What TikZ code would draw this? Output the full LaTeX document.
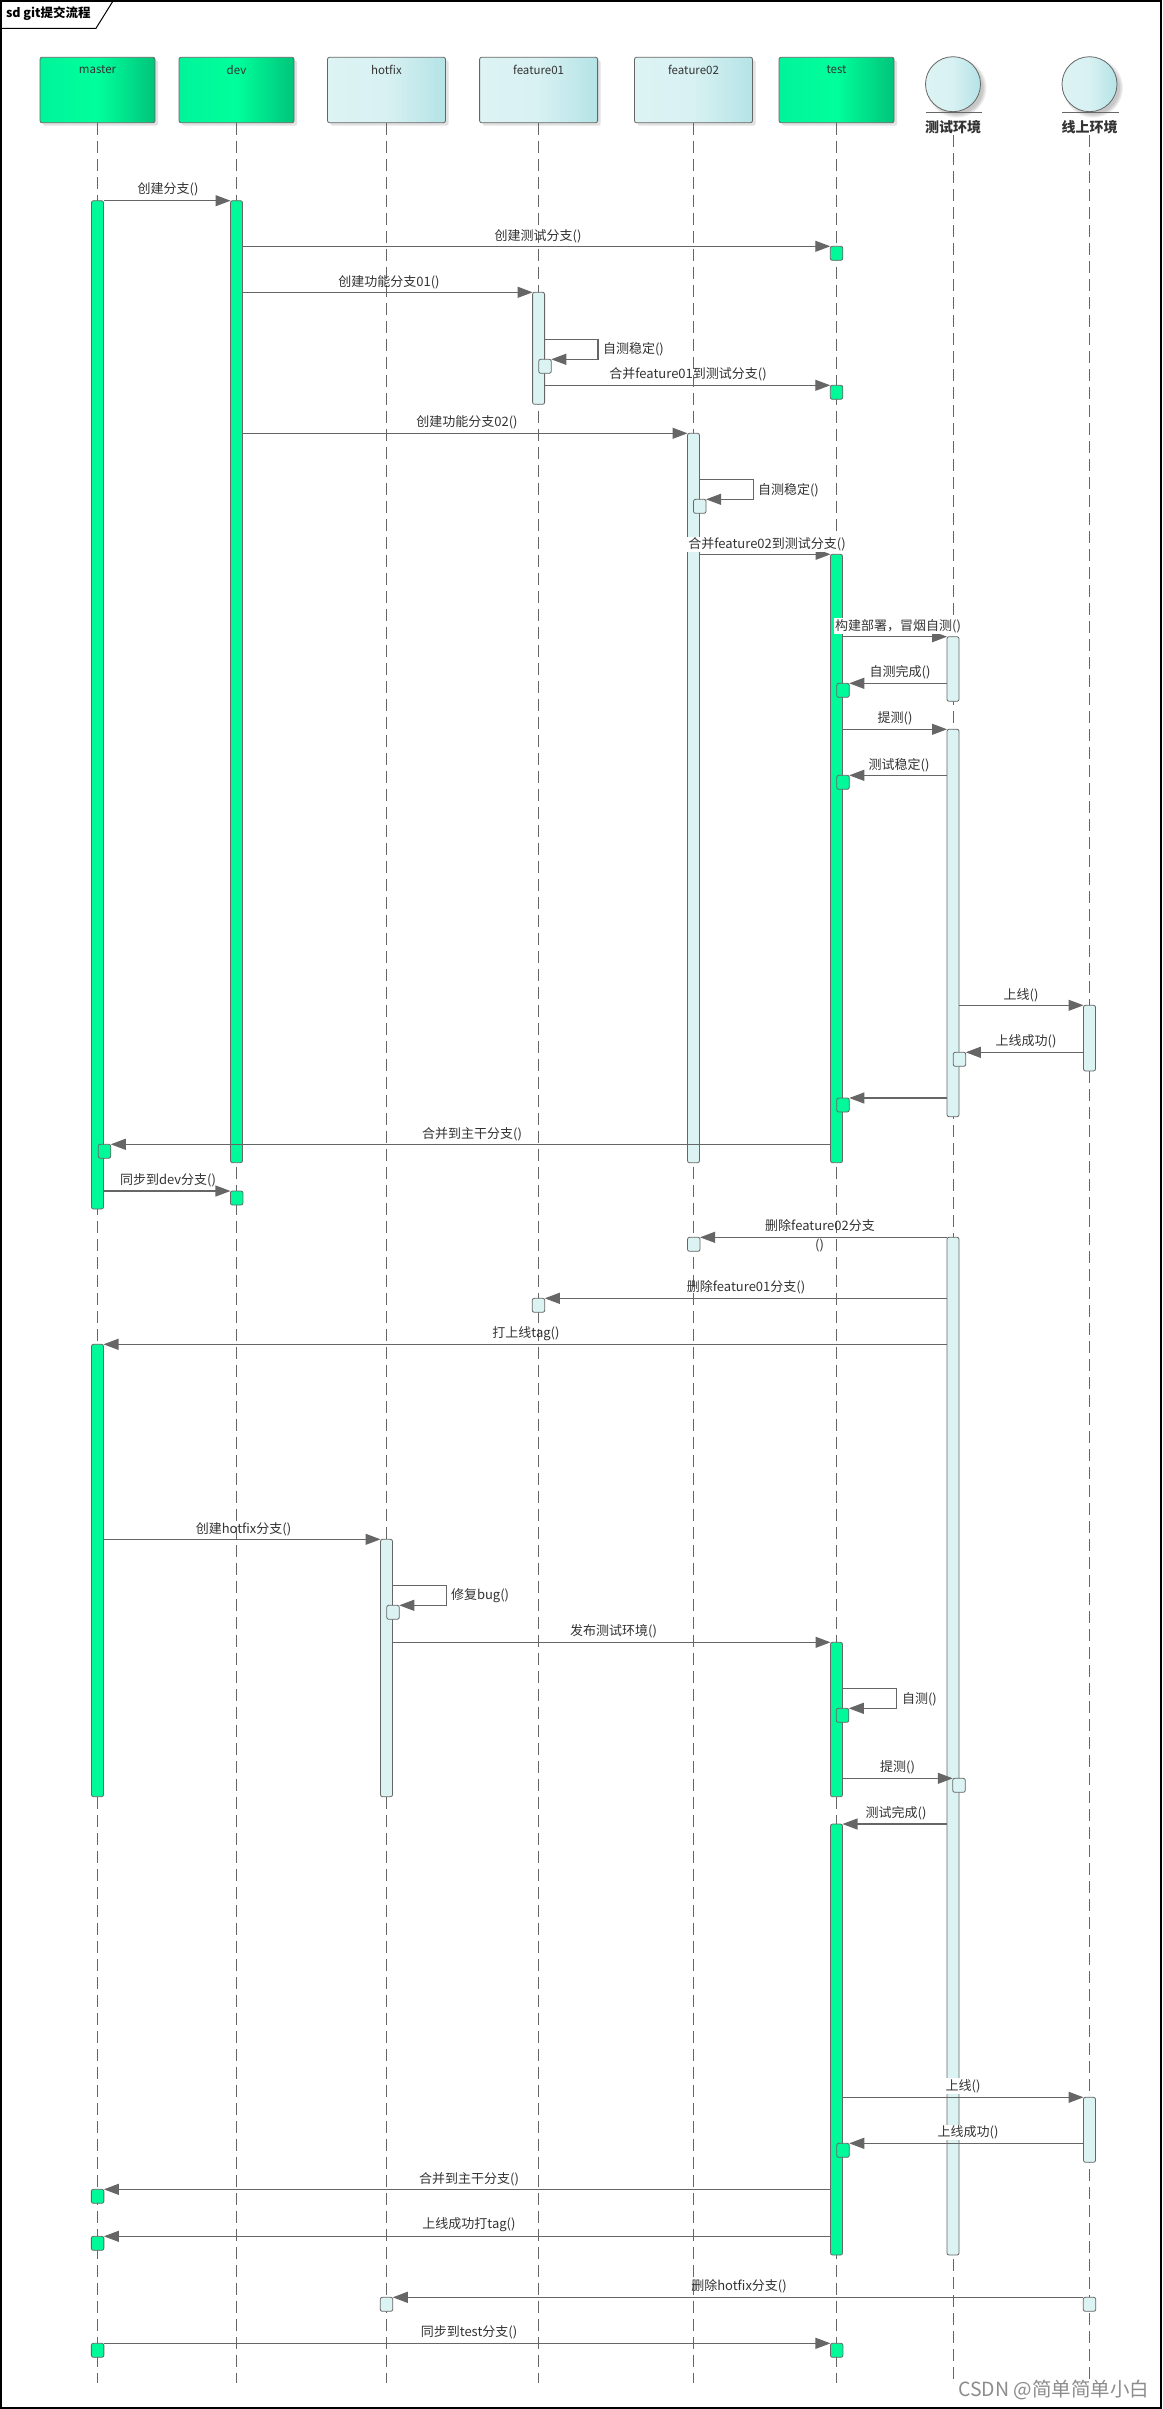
\documentclass[tikz,border=0pt]{standalone}
\usepackage{fontspec}
\setmainfont{Noto Sans CJK SC}
\usetikzlibrary{arrows.meta,shadows}
\definecolor{gL}{HTML}{00F49A}
\definecolor{gM}{HTML}{00FF9C}
\definecolor{gR}{HTML}{00C47A}
\definecolor{cL}{HTML}{DDF3F4}
\definecolor{cM}{HTML}{D8F1F2}
\definecolor{cR}{HTML}{B4E3E6}
\definecolor{gF}{HTML}{00FA9A}
\definecolor{cF}{HTML}{DCF3F3}
\definecolor{ln}{HTML}{666666}
\definecolor{tx}{HTML}{333333}
\begin{document}
\begin{tikzpicture}[x=1pt,y=-1pt,
  every node/.style={inner sep=0pt, outer sep=0pt},
  gbox/.style={draw=ln, line width=0.8pt, rounded corners=2pt, minimum width=115pt, minimum height=65.4pt, anchor=north,
     left color=gL, right color=gR, middle color=gM,
     drop shadow={shadow xshift=3pt, shadow yshift=-3pt, fill=black!22}},
  cbox/.style={gbox, minimum width=118pt, left color=cL, right color=cR, middle color=cM},
  actor/.style={circle, draw=ln, line width=0.8pt, minimum size=55pt, left color=cL, right color=cR, middle color=cM,
     circular drop shadow={shadow xshift=3pt, shadow yshift=-3pt, fill=black!22}},
  headtxt/.style={font=\fontsize{11.5}{13}\selectfont, text=tx},
  acttxt/.style={font=\fontsize{14}{16}\selectfont\bfseries, text=tx},
  life/.style={draw=ln, line width=0.8pt, dash pattern=on 12pt off 6pt},
  gbar/.style={draw=ln, line width=0.8pt, rounded corners=2pt, fill=gF, minimum width=12pt, anchor=north},
  cbar/.style={gbar, fill=cF},
  gsm/.style={draw=ln, line width=0.8pt, rounded corners=2pt, fill=gF, minimum width=12.5pt, minimum height=14pt, anchor=north},
  csm/.style={gsm, fill=cF},
  msg/.style={draw=ln, line width=1.1pt, -{Triangle[length=15pt,width=11pt]}},
  lab/.style={font=\fontsize{13}{15}\selectfont, text=tx},
  wlab/.style={lab, fill=white, inner sep=1pt}
]
\useasboundingbox (0,0) rectangle (1162,2409);
\fill[white] (0,0) rectangle (1162,2409);
% frame and title tab
\draw[black, line width=1.3pt] (1,1) rectangle (1161,2408);
\draw[black, line width=1pt] (1,28.3) -- (96,28.3) -- (113,1);
\node[anchor=west, font=\fontsize{12.5}{14}\selectfont\bfseries] (title) at (6,14) {sd git提交流程};

% lifeline heads
\node[gbox] (hM) at (97.5,57.3) {};
\node[gbox] (hD) at (236.5,57.3) {};
\node[cbox] (hH) at (386.5,57.3) {};
\node[cbox] (hF1) at (538.6,57.3) {};
\node[cbox] (hF2) at (693.5,57.3) {};
\node[gbox] (hT) at (836.5,57.3) {};
\node[headtxt] (tM) at (97.5,70) {master};
\node[headtxt] (tD) at (236.5,70) {dev};
\node[headtxt] (tH) at (386.5,70) {hotfix};
\node[headtxt] (tF1) at (538.6,70) {feature01};
\node[headtxt] (tF2) at (693.5,70) {feature02};
\node[headtxt] (tT) at (836.5,70) {test};
\node[actor] (aE) at (953,84.2) {};
\node[actor] (aO) at (1089.5,84.2) {};
\draw[ln, line width=0.9pt] (925.5,112.3) -- (982,112.3);
\draw[ln, line width=0.9pt] (1062,112.3) -- (1118.5,112.3);
\node[acttxt] (tE) at (953,126.7) {测试环境};
\node[acttxt] (tO) at (1089.5,126.7) {线上环境};

% lifelines
\coordinate (eM) at (97.5,2383.3);
\coordinate (eD) at (236.5,2383.3);
\coordinate (eH) at (386.5,2383.3);
\coordinate (eF1) at (538.6,2383.3);
\coordinate (eF2) at (693.5,2383.3);
\coordinate (eT) at (836.5,2383.3);
\coordinate (eE) at (953,2383.3);
\coordinate (eO) at (1089.5,2383.3);
\draw[life] (hM.south) -- (eM);
\draw[life] (hD.south) -- (eD);
\draw[life] (hH.south) -- (eH);
\draw[life] (hF1.south) -- (eF1);
\draw[life] (hF2.south) -- (eF2);
\draw[life] (hT.south) -- (eT);
\draw[life] (953,135) -- (eE);
\draw[life] (1089.5,135) -- (eO);

% activation bars
\node[gbar, minimum height=1008.3pt] (mbar1) at (97.5,200.7) {};
\node[gbar, minimum height=962pt] (dbar1) at (236.5,200.7) {};
\node[cbar, minimum height=112pt] (f1bar) at (538.6,292.3) {};
\node[cbar, minimum height=729.4pt] (f2bar) at (693.5,433.3) {};
\node[gbar, minimum height=608.4pt] (tbar1) at (836.5,554.3) {};
\node[cbar, minimum height=64.6pt] (ebar1) at (953,636.7) {};
\node[cbar, minimum height=387.4pt] (ebar2) at (953,729.3) {};
\node[cbar, minimum height=65.7pt] (obar1) at (1089.5,1005.3) {};
\node[cbar, minimum height=1017.7pt] (ebar3) at (953,1237.3) {};
\node[gbar, minimum height=452.4pt] (mbar2) at (97.5,1344.3) {};
\node[cbar, minimum height=257.4pt] (hbar) at (386.5,1539.3) {};
\node[gbar, minimum height=154.4pt] (tbar2) at (836.5,1642.3) {};
\node[gbar, minimum height=431pt] (tbar3) at (836.5,1824) {};
\node[cbar, minimum height=65pt] (obar2) at (1089.5,2097.3) {};

% small execution boxes
\node[gsm] (s1) at (836.5,246.3) {};
\node[csm] (s2) at (545,359.3) {};
\node[gsm] (s3) at (836.5,385.3) {};
\node[csm] (s4) at (699.8,499.3) {};
\node[gsm] (s5) at (843,683.3) {};
\node[gsm] (s6) at (843,775.3) {};
\node[csm] (s7) at (959.5,1052.3) {};
\node[gsm] (s8) at (843,1098) {};
\node[gsm] (s9) at (104.5,1144.3) {};
\node[gsm] (s10) at (236.7,1191) {};
\node[csm] (s11) at (693.8,1237.3) {};
\node[csm] (s12) at (538.5,1298.3) {};
\node[csm] (s13) at (393,1605.3) {};
\node[gsm] (s14) at (842.5,1708.3) {};
\node[csm] (s15) at (959,1778.3) {};
\node[gsm] (s16) at (843,2143.3) {};
\node[gsm] (s17) at (97.6,2189.3) {};
\node[gsm] (s18) at (97.6,2236.3) {};
\node[csm] (s19) at (1089.5,2297.3) {};
\node[csm] (s20) at (386.5,2297.3) {};
\node[gsm] (s21) at (97.6,2343.3) {};
\node[gsm] (s22) at (836.7,2343.3) {};

% self-message corners
\coordinate (c4) at (598,339.3);
\coordinate (c7) at (753.5,479.3);
\coordinate (c22) at (446.2,1585.3);
\coordinate (c24) at (896.5,1688.3);

% messages
\draw[msg] (mbar1.east |- dbar1.north) -- (dbar1.north west);
\draw[msg] (dbar1.east |- s1.north) -- (s1.north west);
\draw[msg] (dbar1.east |- f1bar.north) -- (f1bar.north west);
\draw[msg] (f1bar.east |- c4) -- (c4) |- (s2.north east);
\draw[msg] (f1bar.east |- s3.north) -- (s3.north west);
\draw[msg] (dbar1.east |- f2bar.north) -- (f2bar.north west);
\draw[msg] (f2bar.east |- c7) -- (c7) |- (s4.north east);
\draw[msg] (f2bar.east |- tbar1.north) -- (tbar1.north west);
\draw[msg] (tbar1.east |- ebar1.north) -- (ebar1.north west);
\draw[msg] (ebar1.west |- s5.north) -- (s5.north east);
\draw[msg] (tbar1.east |- ebar2.north) -- (ebar2.north west);
\draw[msg] (ebar2.west |- s6.north) -- (s6.north east);
\draw[msg] (ebar2.east |- obar1.north) -- (obar1.north west);
\draw[msg] (obar1.west |- s7.north) -- (s7.north east);
\draw[msg] (ebar2.west |- s8.north) -- (s8.north east);
\draw[msg] (tbar1.west |- s9.north) -- (s9.north east);
\draw[msg] (mbar1.east |- s10.north) -- (s10.north west);
\draw[msg] (ebar3.west |- s11.north) -- (s11.north east);
\draw[msg] (ebar3.west |- s12.north) -- (s12.north east);
\draw[msg] (ebar3.west |- mbar2.north) -- (mbar2.north east);
\draw[msg] (mbar2.east |- hbar.north) -- (hbar.north west);
\draw[msg] (hbar.east |- c22) -- (c22) |- (s13.north east);
\draw[msg] (hbar.east |- tbar2.north) -- (tbar2.north west);
\draw[msg] (tbar2.east |- c24) -- (c24) |- (s14.north east);
\draw[msg] (tbar2.east |- s15.north) -- (s15.north west);
\draw[msg] (ebar3.west |- tbar3.north) -- (tbar3.north east);
\draw[msg] (tbar3.east |- obar2.north) -- (obar2.north west);
\draw[msg] (obar2.west |- s16.north) -- (s16.north east);
\draw[msg] (tbar3.west |- s17.north) -- (s17.north east);
\draw[msg] (tbar3.west |- s18.north) -- (s18.north east);
\draw[msg] (s19.north west) -- (s20.north east);
\draw[msg] (s21.north east) -- (s22.north west);

% labels
\node[lab] (L1) at (168,189.3) {创建分支()};
\node[lab] (L2) at (538,236.7) {创建测试分支()};
\node[lab] (L3) at (389,282.7) {创建功能分支01()};
\node[lab, anchor=west] (L4) at (603,349.3) {自测稳定()};
\node[lab] (L5) at (688,374.3) {合并feature01到测试分支()};
\node[lab] (L6) at (467,422.7) {创建功能分支02()};
\node[lab, anchor=west] (L7) at (758,490) {自测稳定()};
\node[wlab] (L8) at (767,544.3) {合并feature02到测试分支()};
\node[wlab] (L9) at (898,626) {构建部署，冒烟自测()};
\node[lab] (L10) at (900,672.3) {自测完成()};
\node[lab] (L11) at (895,718.3) {提测()};
\node[lab] (L12) at (899,765) {测试稳定()};
\node[lab] (L13) at (1021,995) {上线()};
\node[lab] (L14) at (1026,1041) {上线成功()};
\node[lab] (L15) at (472,1134.3) {合并到主干分支()};
\node[lab] (L16) at (168,1180) {同步到dev分支()};
\node[lab] (L17) at (820,1226) {删除feature02分支};
\node[wlab] (L17b) at (819.5,1245.3) {()};
\node[lab] (L18) at (746,1287.3) {删除feature01分支()};
\node[lab] (L19) at (526,1333.3) {打上线tag()};
\node[lab] (L20) at (243.5,1529) {创建hotfix分支()};
\node[lab, anchor=west] (L21) at (451,1595.7) {修复bug()};
\node[lab] (L22) at (613.5,1631) {发布测试环境()};
\node[lab, anchor=west] (L23) at (902,1699) {自测()};
\node[lab] (L24) at (897.5,1767.3) {提测()};
\node[lab] (L25) at (896,1813.3) {测试完成()};
\node[wlab] (L26) at (963,2086) {上线()};
\node[wlab] (L27) at (968,2132.7) {上线成功()};
\node[lab] (L28) at (469,2179.3) {合并到主干分支()};
\node[lab] (L29) at (469,2225) {上线成功打tag()};
\node[lab] (L30) at (739,2286) {删除hotfix分支()};
\node[lab] (L31) at (469,2332.3) {同步到test分支()};

% watermark
\node[anchor=east, font=\fontsize{19.5}{22}\selectfont, text=black!45] (wm) at (1149,2390) {CSDN @简单简单小白};
\end{tikzpicture}
\end{document}
